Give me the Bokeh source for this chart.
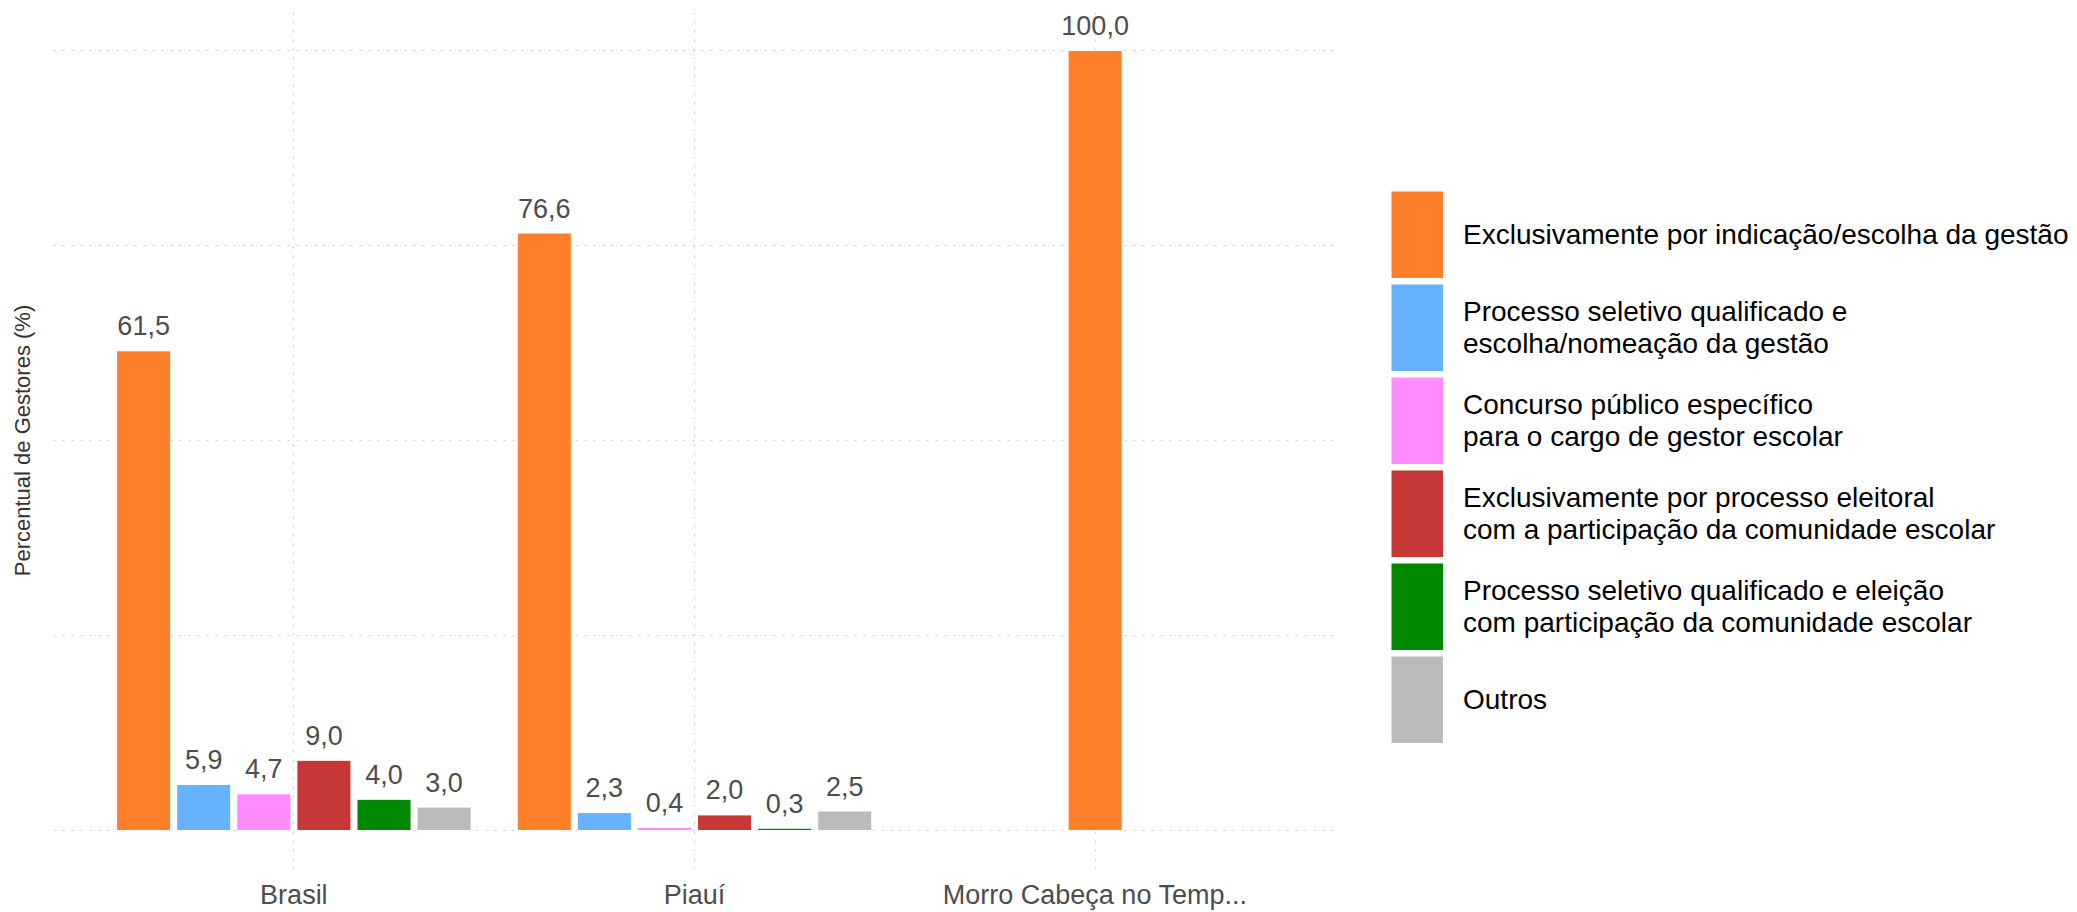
from bokeh.plotting import figure
from bokeh.layouts import row
from bokeh.models import ColumnDataSource, Range1d, FixedTicker, Legend, LegendItem
from bokeh.core.properties import value
from bokeh.embed import file_html
from bokeh.resources import INLINE

# ---------------- data ----------------
categories = ["Brasil", "Piauí", "Morro Cabeça no Temp..."]

series_names = [
    "Exclusivamente por indicação/escolha da gestão",
    "Processo seletivo qualificado e\nescolha/nomeação da gestão",
    "Concurso público específico\npara o cargo de gestor escolar",
    "Exclusivamente por processo eleitoral\ncom a participação da comunidade escolar",
    "Processo seletivo qualificado e eleição\ncom participação da comunidade escolar",
    "Outros",
]

indicacao = [61.5, 76.6, 100.0]
seletivo_nomeacao = [5.9, 2.3, None]
concurso = [4.7, 0.4, None]
eleitoral = [9.0, 2.0, None]
seletivo_eleicao = [4.0, 0.3, None]
outros = [3.0, 2.5, None]

series_values = [indicacao, seletivo_nomeacao, concurso, eleitoral, seletivo_eleicao, outros]
colors = ["#FF7F2A", "#66B2FF", "#FF8CFF", "#C83737", "#008800", "#BBBBBB"]

y_ticks = [0, 25, 50, 75, 100]

FONT = "Liberation Sans"
n_series = len(series_names)
slot = 0.9 / n_series          # dodge slot (preserve single)
bar_w = slot * 0.9             # padding inside slot

# ---------------- main figure ----------------
p = figure(width=1335, height=912,
           x_range=Range1d(0.4, len(categories) + 0.6),
           y_range=Range1d(-5, 105),
           output_backend="svg", toolbar_location=None,
           min_border_left=53, min_border_top=11, min_border_right=0,
           min_border_bottom=0)
p.outline_line_color = None
p.background_fill_color = "white"
p.border_fill_color = "white"

# dodge positions per category (centered on the bars present)
present = []
for ci in range(len(categories)):
    present.append([si for si in range(n_series) if series_values[si][ci] is not None])

sources = []
label_x, label_y, label_t = [], [], []
for si in range(n_series):
    xs, ys = [], []
    for ci in range(len(categories)):
        v = series_values[si][ci]
        if v is None:
            continue
        k = present[ci].index(si)
        n = len(present[ci])
        x = (ci + 1) + (k - (n - 1) / 2) * slot
        xs.append(x)
        ys.append(v)
        label_x.append(x)
        label_y.append(v)
        label_t.append(f"{v:.1f}".replace(".", ","))
    src = ColumnDataSource(dict(x=xs, top=ys))
    sources.append(src)
    p.vbar(x="x", top="top", bottom=0, width=bar_w, source=src,
           fill_color=colors[si], line_color="white", line_width=1)

lab_src = ColumnDataSource(dict(x=label_x, y=label_y, t=label_t))
p.text(x="x", y="y", text="t", source=lab_src, text_align="center",
       text_baseline="alphabetic", y_offset=-25,
       text_font=value(FONT), text_font_size="27px", text_color="#4D4D4D")

# ---------------- axes & grid ----------------
p.xaxis.ticker = FixedTicker(ticks=[i + 1 for i in range(len(categories))])
p.xaxis.major_label_overrides = {i + 1: c for i, c in enumerate(categories)}
p.xaxis.major_label_text_font = FONT
p.xaxis.major_label_text_font_size = "27px"
p.xaxis.major_label_text_color = "#4D4D4D"
p.xaxis.major_label_standoff = 10
p.xaxis.major_tick_out = 0
p.xaxis.major_tick_in = 0
p.xaxis.axis_line_color = None
p.xaxis.major_tick_line_color = None
p.xaxis.minor_tick_line_color = None

p.yaxis.ticker = FixedTicker(ticks=[])
p.yaxis.major_label_standoff = 0
p.yaxis.major_tick_out = 0
p.yaxis.major_tick_in = 0
p.yaxis.axis_line_color = None
p.yaxis.major_tick_line_color = None
p.yaxis.minor_tick_line_color = None
p.yaxis.axis_label = "Percentual de Gestores (%)"
p.yaxis.axis_label_text_font = FONT
p.yaxis.axis_label_text_font_size = "22px"
p.yaxis.axis_label_text_font_style = "normal"
p.yaxis.axis_label_text_color = "#333333"
p.yaxis.axis_label_standoff = 19

for g in (p.xgrid, p.ygrid):
    g.grid_line_color = "#CCCCCC"
    g.grid_line_dash = "2 7"
    g.grid_line_width = 1
p.ygrid.ticker = FixedTicker(ticks=y_ticks)
p.xgrid.ticker = FixedTicker(ticks=[i + 1 for i in range(len(categories))])

# ---------------- legend figure ----------------
# same sources, but the view range is kept away from the data so only the legend shows
lg = figure(width=737, height=912, x_range=Range1d(-20, -19), y_range=Range1d(-20, -19),
            output_backend="svg", toolbar_location=None,
            x_axis_location=None, y_axis_location=None,
            min_border_left=0, min_border_right=0, min_border_top=0,
            min_border_bottom=0)
lg.grid.visible = False
lg.outline_line_color = None
lg.background_fill_color = "white"
lg.border_fill_color = "white"

KEY_W, KEY_H = 52, 87
legend_renderers = []
for si in range(n_series):
    # a thick butt-capped line gives a full-size rectangular legend key
    r = lg.line(x="x", y="top", source=sources[si], line_color=colors[si],
                line_width=KEY_H, line_cap="butt")
    legend_renderers.append(r)

legend = Legend(items=[LegendItem(label=series_names[i], renderers=[legend_renderers[i]])
                       for i in range(n_series)],
                location=(56, 126), orientation="vertical",
                glyph_width=KEY_W, glyph_height=KEY_H, spacing=6,
                label_standoff=20, label_text_font=FONT,
                label_text_font_size="28px", label_text_color="black",
                label_text_baseline="middle", label_height=20,
                padding=0, margin=0,
                border_line_color=None, background_fill_alpha=0)
lg.add_layout(legend, "center")

layout = row(p, lg, spacing=0)
open("out.html", "w").write(file_html(layout, INLINE))
